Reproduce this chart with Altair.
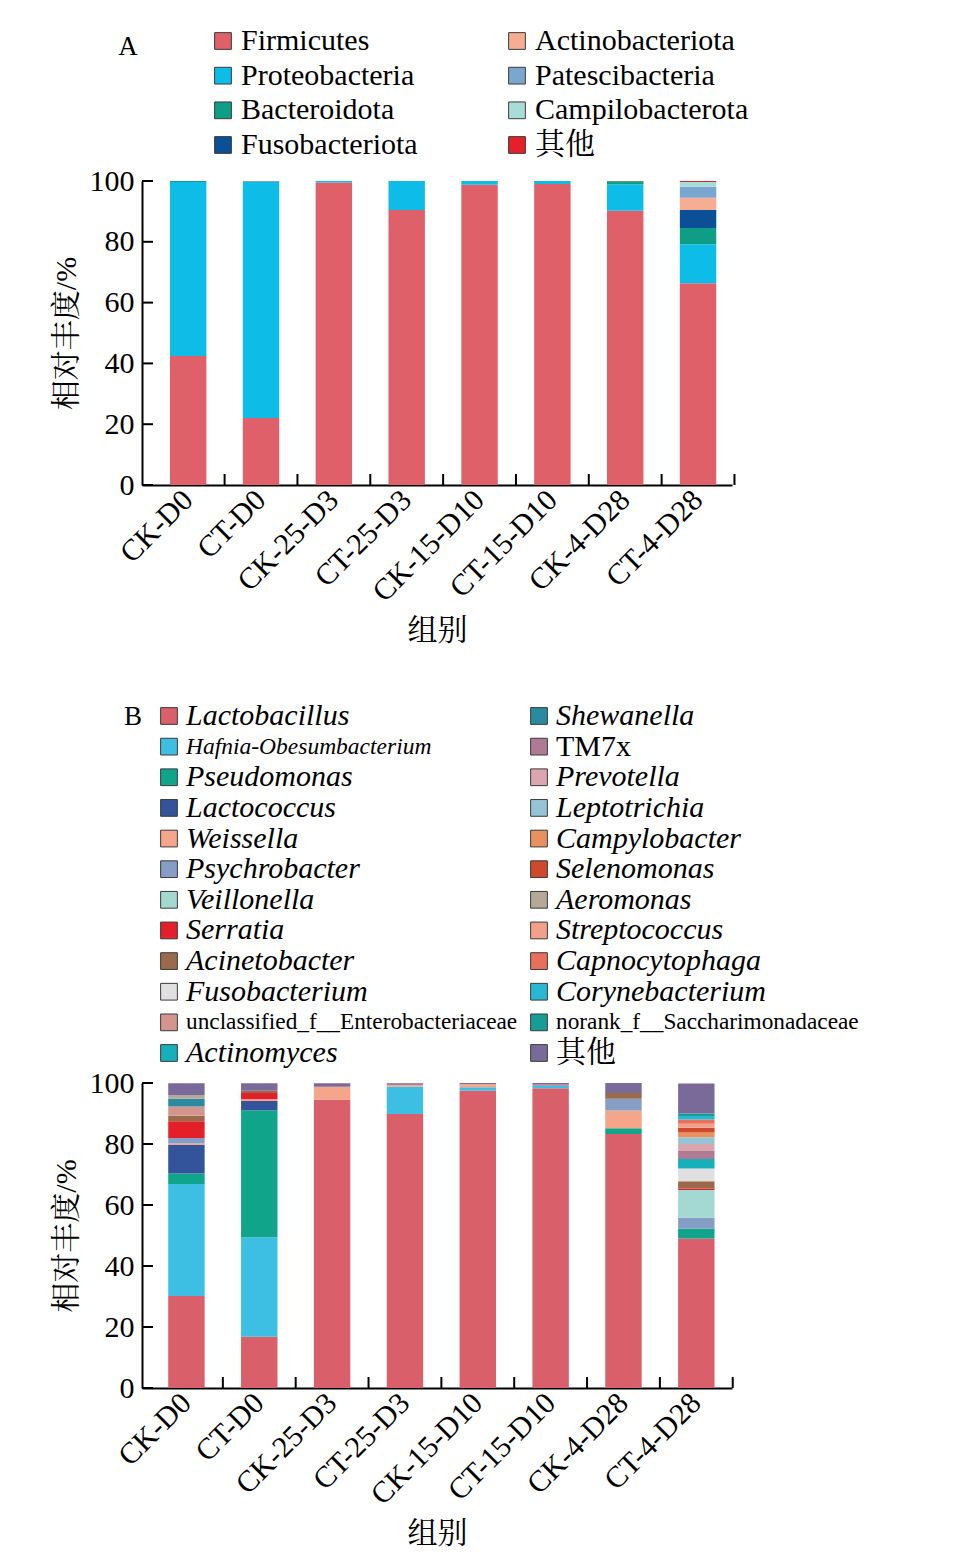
import altair as alt
import pandas as pd

FONT = "Liberation Serif, Noto Serif CJK SC, Noto Sans CJK SC, serif"

groups = ["CK-D0", "CT-D0", "CK-25-D3", "CT-25-D3", "CK-15-D10", "CT-15-D10", "CK-4-D28", "CT-4-D28"]
y_ticks = [0, 20, 40, 60, 80, 100]

# ---------------- Panel A : phylum level ----------------
phyla = ["Firmicutes", "Proteobacteria", "Bacteroidota", "Fusobacteriota",
         "Actinobacteriota", "Patescibacteria", "Campilobacterota", "其他"]
phyla_colors = ["#e0606a", "#0ebce8", "#0e9e86", "#0b4f96",
                "#f5ae92", "#7aa6d0", "#a8dcd8", "#e4202a"]

firmicutes       = [42.4, 22.0, 99.5, 90.5, 98.8, 99.0, 90.2, 66.4]
proteobacteria   = [57.3, 77.8, 0.5, 9.5, 1.2, 1.0, 8.7, 12.8]
bacteroidota     = [0.3, 0.1, 0.0, 0.0, 0.0, 0.0, 1.0, 5.3]
fusobacteriota   = [0.0, 0.0, 0.0, 0.0, 0.0, 0.0, 0.0, 6.0]
actinobacteriota = [0.0, 0.0, 0.0, 0.0, 0.0, 0.0, 0.0, 4.0]
patescibacteria  = [0.0, 0.0, 0.0, 0.0, 0.0, 0.0, 0.0, 3.6]
campilobacterota = [0.0, 0.0, 0.0, 0.0, 0.0, 0.0, 0.0, 1.6]
other_phyla      = [0.0, 0.1, 0.0, 0.0, 0.0, 0.0, 0.1, 0.3]
phyla_values = [firmicutes, proteobacteria, bacteroidota, fusobacteriota,
                actinobacteriota, patescibacteria, campilobacterota, other_phyla]

# ---------------- Panel B : genus level ----------------
genera = ["Lactobacillus", "Hafnia-Obesumbacterium", "Pseudomonas", "Lactococcus",
          "Weissella", "Psychrobacter", "Veillonella", "Serratia", "Acinetobacter",
          "Fusobacterium", "unclassified_f__Enterobacteriaceae", "Actinomyces",
          "Shewanella", "TM7x", "Prevotella", "Leptotrichia", "Campylobacter",
          "Selenomonas", "Aeromonas", "Streptococcus", "Capnocytophaga",
          "Corynebacterium", "norank_f__Saccharimonadaceae", "其他"]
genera_colors = ["#d9606a", "#3cbfe2", "#10a48a", "#33539a",
                 "#f5a58a", "#869dc6", "#a3d9d2", "#e3202a", "#9a6a4a",
                 "#e0e0e0", "#d4958f", "#16b0bc",
                 "#2a8aa0", "#b07a94", "#daa6b0", "#96c4d6", "#e8905e",
                 "#cf4a2a", "#b6a898", "#f2a08c", "#e8705a",
                 "#28b8d4", "#169e96", "#7a6a9a"]

lactobacillus   = [30.2, 16.8, 94.6, 89.8, 97.5, 98.3, 83.3, 49.0]
hafnia          = [36.7, 32.6, 0.0, 9.0, 1.1, 0.8, 0.0, 0.0]
pseudomonas     = [3.4, 41.7, 0.0, 0.0, 0.0, 0.0, 1.9, 3.3]
lactococcus     = [9.4, 3.0, 0.0, 0.0, 0.0, 0.0, 0.0, 0.0]
weissella       = [0.5, 0.6, 4.2, 0.6, 1.1, 0.0, 5.8, 0.0]
psychrobacter   = [1.8, 0.0, 0.0, 0.0, 0.0, 0.0, 3.8, 3.5]
veillonella     = [0.0, 0.0, 0.0, 0.0, 0.0, 0.0, 0.0, 9.1]
serratia        = [5.5, 2.0, 0.0, 0.0, 0.0, 0.0, 0.0, 0.5]
acinetobacter   = [1.8, 0.8, 0.0, 0.0, 0.0, 0.0, 1.9, 2.4]
fusobacterium   = [0.0, 0.0, 0.0, 0.0, 0.0, 0.0, 0.0, 4.2]
unclassified_e  = [3.0, 0.0, 0.0, 0.0, 0.0, 0.0, 0.0, 0.0]
actinomyces     = [0.0, 0.0, 0.0, 0.0, 0.0, 0.0, 0.0, 3.1]
shewanella      = [2.5, 0.0, 0.0, 0.0, 0.0, 0.0, 0.0, 0.0]
tm7x            = [0.0, 0.0, 0.0, 0.0, 0.0, 0.5, 0.0, 2.6]
prevotella      = [0.0, 0.0, 0.0, 0.0, 0.0, 0.0, 0.0, 2.3]
leptotrichia    = [0.0, 0.0, 0.0, 0.0, 0.0, 0.0, 0.0, 2.2]
campylobacter   = [0.0, 0.0, 0.0, 0.0, 0.0, 0.0, 0.0, 1.6]
selenomonas     = [0.0, 0.0, 0.0, 0.0, 0.0, 0.0, 0.0, 1.5]
aeromonas       = [1.3, 0.0, 0.0, 0.0, 0.0, 0.0, 0.0, 0.0]
streptococcus   = [0.0, 0.0, 0.0, 0.0, 0.0, 0.0, 0.0, 1.3]
capnocytophaga  = [0.0, 0.0, 0.0, 0.0, 0.0, 0.0, 0.0, 1.4]
corynebacterium = [0.0, 0.0, 0.0, 0.0, 0.0, 0.0, 0.0, 1.2]
norank_s        = [0.0, 0.0, 0.0, 0.0, 0.0, 0.0, 0.0, 0.8]
other_genera    = [3.8, 2.4, 1.1, 0.5, 0.3, 0.4, 3.3, 9.8]
genera_values = [lactobacillus, hafnia, pseudomonas, lactococcus, weissella,
                 psychrobacter, veillonella, serratia, acinetobacter, fusobacterium,
                 unclassified_e, actinomyces, shewanella, tm7x, prevotella,
                 leptotrichia, campylobacter, selenomonas, aeromonas, streptococcus,
                 capnocytophaga, corynebacterium, norank_s, other_genera]

upright = ["TM7x", "unclassified_f__Enterobacteriaceae", "norank_f__Saccharimonadaceae", "其他"]
narrow = ["Hafnia-Obesumbacterium", "unclassified_f__Enterobacteriaceae", "norank_f__Saccharimonadaceae"]

W = 590
HA = 304
HB = 305
P_IN, P_OUT = 0.5, 0.3
STEP = W / (len(groups) - P_IN + 2 * P_OUT)
GAP_HALF = STEP * P_IN / 2


def long_table(names, values):
    rows = []
    for k, (n, vals) in enumerate(zip(names, values)):
        for g, v in zip(groups, vals):
            rows.append({"group": g, "taxon": n, "value": v, "k": k})
    return pd.DataFrame(rows)


def bar_panel(names, colors, values, H, align):
    df = long_table(names, values)
    x_axis = alt.Axis(labelAngle=315, labelBaseline="middle", ticks=False,
                      domainColor="black", domainWidth=2,
                      labelFont=FONT, labelFontSize=30, labelColor="black", labelPadding=10,
                      labelOverlap=False, titleFont=FONT, titleFontSize=30,
                      titleFontWeight="normal", titleColor="black", titlePadding=9)
    y_axis = alt.Axis(values=y_ticks, ticks=False, grid=False, domainColor="black",
                      domainWidth=2, labelFont=FONT, labelFontSize=30, labelColor="black",
                      labelPadding=8, titleFont=FONT, titleFontSize=30,
                      titleFontWeight="normal", titleColor="black", titlePadding=8)
    xscale = alt.Scale(domain=groups, paddingInner=P_IN, paddingOuter=P_OUT, align=align)
    yscale = alt.Scale(domain=[0, 100], nice=False)
    bars = alt.Chart(df).mark_bar(clip=True).encode(
        x=alt.X("group:N", sort=groups, scale=xscale, axis=x_axis, title="组别"),
        y=alt.Y("value:Q", stack="zero", scale=yscale, axis=y_axis, title="相对丰度/%"),
        color=alt.Color("taxon:N", scale=alt.Scale(domain=names, range=colors), legend=None),
        order=alt.Order("k:Q", sort="ascending"),
    )
    xt = alt.Chart(pd.DataFrame({"group": groups})).mark_rule(
        color="black", strokeWidth=2, xOffset=GAP_HALF).encode(
        x=alt.X("group:N", sort=groups, scale=xscale, axis=x_axis, title="组别", bandPosition=1),
        y=alt.value(H - 11), y2=alt.value(H),
    )
    yt = alt.Chart(pd.DataFrame({"tick": y_ticks})).mark_rule(color="black", strokeWidth=2).encode(
        y=alt.Y("tick:Q", scale=yscale, axis=y_axis, title="相对丰度/%"),
        x=alt.value(0), x2=alt.value(11),
    )
    return alt.layer(bars, xt, yt).properties(width=W, height=H)


def legend_panel(names, colors, nrows, col_x, row_y, text_dx, H, letter, letter_xy, font_rules):
    df = pd.DataFrame({"name": names,
                       "col": [i // nrows for i in range(len(names))],
                       "row": [i % nrows for i in range(len(names))]})
    xs = alt.Scale(domain=[0, 1], range=col_x)
    ys = alt.Scale(domain=[0, nrows - 1], range=row_y)
    base = alt.Chart(df).encode(x=alt.X("col:Q", scale=xs, axis=None),
                                y=alt.Y("row:Q", scale=ys, axis=None))
    sq = base.mark_square(size=280, opacity=1, stroke="#3a3a3a", strokeWidth=1).encode(
        color=alt.Color("name:N", scale=alt.Scale(domain=names, range=colors), legend=None))
    layers = [sq]
    for subset, style, size in font_rules:
        if not subset:
            continue
        layers.append(
            base.transform_filter(alt.FieldOneOfPredicate(field="name", oneOf=subset))
            .mark_text(align="left", baseline="middle", dx=text_dx, font=FONT,
                       fontSize=size, fontStyle=style, color="black")
            .encode(text="name:N"))
    lab = alt.Chart(pd.DataFrame({"t": [letter]})).mark_text(
        font=FONT, fontSize=27, color="black", align="center", baseline="middle").encode(
        text="t:N", x=alt.value(letter_xy[0]), y=alt.value(letter_xy[1]))
    layers.append(lab)
    return alt.layer(*layers).properties(width=W, height=H)


legA = legend_panel(phyla, phyla_colors, 4, [81, 375], [33, 137], 18, 173, "A", (-14, 39),
                    [(phyla, "normal", 30)])

it_reg = [n for n in genera if n not in upright and n not in narrow]
it_nar = [n for n in genera if n not in upright and n in narrow]
up_reg = [n for n in genera if n in upright and n not in narrow]
up_nar = [n for n in genera if n in upright and n in narrow]
legB = legend_panel(genera, genera_colors, 12, [27, 397], [231, 568], 17, 598, "B", (-9, 232),
                    [(it_reg, "italic", 30), (it_nar, "italic", 23.5),
                     (up_reg, "normal", 30), (up_nar, "normal", 23.3)])

panelA = bar_panel(phyla, phyla_colors, phyla_values, HA, 0.64)
panelB = bar_panel(genera, genera_colors, genera_values, HB, 0.6)

chart = alt.vconcat(legA, panelA, legB, panelB, spacing=0, bounds="flush").resolve_scale(
    color="independent", x="independent", y="independent"
).properties(
    padding={"left": 43, "top": 0, "right": 5, "bottom": 5}
).configure_view(stroke=None)

chart.save("out.html", embed_options={"renderer": "svg", "actions": False})
